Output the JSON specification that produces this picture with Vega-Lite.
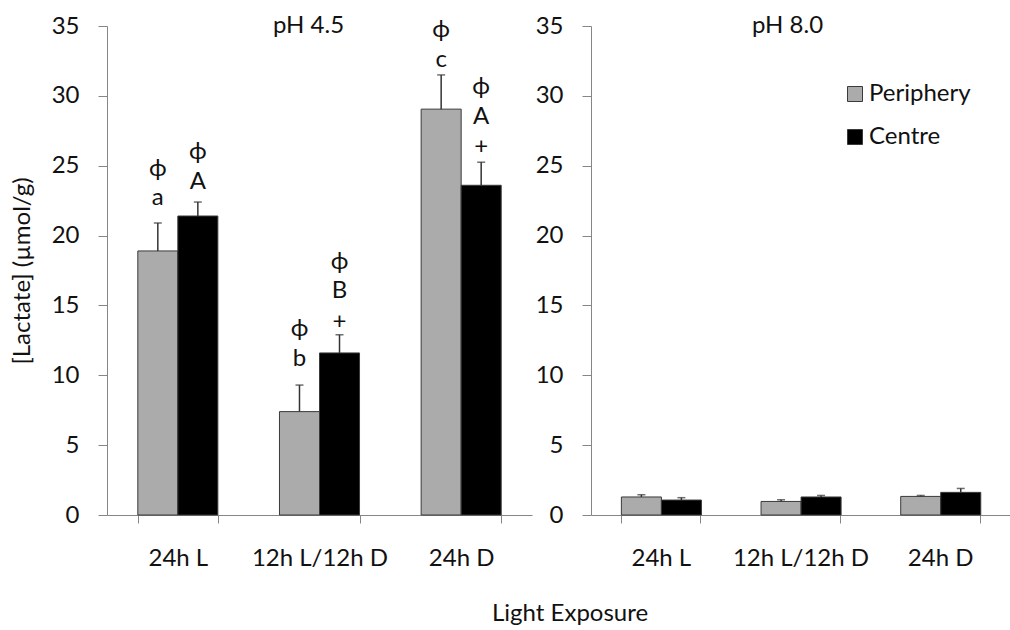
{
  "$schema": "https://vega.github.io/schema/vega-lite/v6.json",
  "padding": {"left": 10, "top": 13, "right": 0, "bottom": 0},
  "background": "white",
  "spacing": 3,
  "title": {"text": "Light Exposure", "orient": "bottom", "anchor": "middle", "font": "Lato", "fontSize": 24, "fontWeight": "normal", "color": "#111", "dx": 60, "offset": 32},
  "config": {
    "view": {"stroke": null},
    "font": "Lato",
    "axis": {"grid": false, "domainColor": "#868686", "tickColor": "#868686", "labelFont": "Lato", "labelFontSize": 24, "labelColor": "#111", "titleFont": "Lato", "titleFontSize": 24, "titleFontWeight": "normal", "titleColor": "#111"},
    "title": {"font": "Lato", "fontSize": 24, "fontWeight": "normal", "color": "#111"}
  },
  "datasets": {
    "bars": [
      {"pH": "pH 4.5", "exposure": "24h L", "series": "Periphery", "mean": 18.9, "upper": 20.9},
      {"pH": "pH 4.5", "exposure": "24h L", "series": "Centre", "mean": 21.4, "upper": 22.4},
      {"pH": "pH 4.5", "exposure": "12h L/12h D", "series": "Periphery", "mean": 7.4, "upper": 9.3},
      {"pH": "pH 4.5", "exposure": "12h L/12h D", "series": "Centre", "mean": 11.6, "upper": 12.9},
      {"pH": "pH 4.5", "exposure": "24h D", "series": "Periphery", "mean": 29.05, "upper": 31.5},
      {"pH": "pH 4.5", "exposure": "24h D", "series": "Centre", "mean": 23.6, "upper": 25.25},
      {"pH": "pH 8.0", "exposure": "24h L", "series": "Periphery", "mean": 1.29, "upper": 1.45},
      {"pH": "pH 8.0", "exposure": "24h L", "series": "Centre", "mean": 1.07, "upper": 1.24},
      {"pH": "pH 8.0", "exposure": "12h L/12h D", "series": "Periphery", "mean": 0.97, "upper": 1.09},
      {"pH": "pH 8.0", "exposure": "12h L/12h D", "series": "Centre", "mean": 1.29, "upper": 1.4},
      {"pH": "pH 8.0", "exposure": "24h D", "series": "Periphery", "mean": 1.33, "upper": 1.4},
      {"pH": "pH 8.0", "exposure": "24h D", "series": "Centre", "mean": 1.62, "upper": 1.9}
    ],
    "notes": [
      {"exposure": "24h L", "series": "Periphery", "label": "ϕ", "pos": 24.77},
      {"exposure": "24h L", "series": "Periphery", "label": "a", "pos": 22.7},
      {"exposure": "24h L", "series": "Centre", "label": "ϕ", "pos": 25.98},
      {"exposure": "24h L", "series": "Centre", "label": "A", "pos": 23.84},
      {"exposure": "12h L/12h D", "series": "Periphery", "label": "ϕ", "pos": 13.31},
      {"exposure": "12h L/12h D", "series": "Periphery", "label": "b", "pos": 11.2},
      {"exposure": "12h L/12h D", "series": "Centre", "label": "ϕ", "pos": 18.11},
      {"exposure": "12h L/12h D", "series": "Centre", "label": "B", "pos": 16.03},
      {"exposure": "12h L/12h D", "series": "Centre", "label": "+", "pos": 13.82},
      {"exposure": "24h D", "series": "Periphery", "label": "ϕ", "pos": 34.72},
      {"exposure": "24h D", "series": "Periphery", "label": "c", "pos": 32.6},
      {"exposure": "24h D", "series": "Centre", "label": "ϕ", "pos": 30.64},
      {"exposure": "24h D", "series": "Centre", "label": "A", "pos": 28.49},
      {"exposure": "24h D", "series": "Centre", "label": "+", "pos": 26.34}
    ]
  },
  "hconcat": [
    {
      "width": 425,
      "height": 489,
      "data": {"name": "bars"},
      "transform": [{"filter": "datum.pH === 'pH 4.5'"}],
      "encoding": {
        "x": {"field": "exposure", "type": "nominal", "sort": ["24h L", "12h L/12h D", "24h D"], "scale": {"paddingInner": 0.435, "paddingOuter": 0.2175}, "axis": {"title": null, "labelAngle": 0, "tickBand": "extent", "tickSize": 8, "labelPadding": 23}},
        "xOffset": {"field": "series", "type": "nominal", "sort": ["Periphery", "Centre"], "scale": {"paddingInner": 0, "paddingOuter": 0}}
      },
      "layer": [
        {
          "mark": {"type": "bar", "stroke": "#3a3a3a", "strokeWidth": 1},
          "encoding": {
            "y": {"field": "mean", "type": "quantitative", "scale": {"domain": [0, 35], "nice": false}, "axis": {"title": "[Lactate] (µmol/g)", "values": [0, 5, 10, 15, 20, 25, 30, 35], "tickSize": 9, "labelPadding": 19, "titlePadding": 17}},
            "color": {"field": "series", "type": "nominal", "sort": ["Periphery", "Centre"], "scale": {"domain": ["Periphery", "Centre"], "range": ["#ababab", "#000000"]}, "legend": null}
          }
        },
        {
          "mark": {"type": "rule", "color": "#333", "strokeWidth": 1.5},
          "encoding": {
            "x": {"field": "exposure", "type": "nominal", "sort": ["24h L", "12h L/12h D", "24h D"], "axis": null},
            "y": {"field": "mean", "type": "quantitative", "axis": null}, "y2": {"field": "upper"}}
        },
        {
          "mark": {"type": "tick", "color": "#333", "size": 8, "thickness": 1.5},
          "encoding": {
            "x": {"field": "exposure", "type": "nominal", "sort": ["24h L", "12h L/12h D", "24h D"], "axis": {"orient": "top", "title": "pH 4.5", "labels": false, "ticks": false, "domain": false, "titleX": 201, "titleY": 6, "titleAlign": "center", "titleBaseline": "alphabetic", "titleAnchor": null}},
            "y": {"field": "upper", "type": "quantitative", "axis": null}
          }
        },
        {
          "data": {"name": "notes"},
          "mark": {"type": "text", "font": "Lato", "fontSize": 24, "color": "#111", "baseline": "middle"},
          "encoding": {
            "x": {"field": "exposure", "type": "nominal", "sort": ["24h L", "12h L/12h D", "24h D"], "axis": null},
            "xOffset": {"field": "series", "type": "nominal", "sort": ["Periphery", "Centre"]},
            "y": {"field": "pos", "type": "quantitative", "axis": null},
            "text": {"field": "label"}
          }
        }
      ],
      "resolve": {"axis": {"x": "independent", "y": "independent"}}
    },
    {
      "width": 419,
      "height": 489,
      "data": {"name": "bars"},
      "transform": [{"filter": "datum.pH === 'pH 8.0'"}],
      "encoding": {
        "x": {"field": "exposure", "type": "nominal", "sort": ["24h L", "12h L/12h D", "24h D"], "scale": {"paddingInner": 0.435, "paddingOuter": 0.2175}, "axis": {"title": null, "labelAngle": 0, "tickBand": "extent", "tickSize": 8, "labelPadding": 23}},
        "xOffset": {"field": "series", "type": "nominal", "sort": ["Periphery", "Centre"], "scale": {"paddingInner": 0, "paddingOuter": 0}}
      },
      "layer": [
        {
          "mark": {"type": "bar", "stroke": "#3a3a3a", "strokeWidth": 1},
          "encoding": {
            "y": {"field": "mean", "type": "quantitative", "scale": {"domain": [0, 35], "nice": false}, "axis": {"title": null, "values": [0, 5, 10, 15, 20, 25, 30, 35], "tickSize": 9, "labelPadding": 19}},
            "color": {"field": "series", "type": "nominal", "sort": ["Periphery", "Centre"], "scale": {"domain": ["Periphery", "Centre"], "range": ["#ababab", "#000000"]}, "legend": {"title": null, "orient": "none", "legendX": 252, "legendY": 56, "symbolType": "square", "symbolSize": 225, "symbolStrokeColor": "#3a3a3a", "symbolStrokeWidth": 1, "labelFont": "Lato", "labelFontSize": 24, "labelColor": "#111", "labelOffset": 2, "rowPadding": 19, "padding": 0}}
          }
        },
        {
          "mark": {"type": "rule", "color": "#333", "strokeWidth": 1.5},
          "encoding": {
            "x": {"field": "exposure", "type": "nominal", "sort": ["24h L", "12h L/12h D", "24h D"], "axis": null},
            "y": {"field": "mean", "type": "quantitative", "axis": null}, "y2": {"field": "upper"}}
        },
        {
          "mark": {"type": "tick", "color": "#333", "size": 8, "thickness": 1.5},
          "encoding": {
            "x": {"field": "exposure", "type": "nominal", "sort": ["24h L", "12h L/12h D", "24h D"], "axis": {"orient": "top", "title": "pH 8.0", "labels": false, "ticks": false, "domain": false, "titleX": 196, "titleY": 6, "titleAlign": "center", "titleBaseline": "alphabetic", "titleAnchor": null}},
            "y": {"field": "upper", "type": "quantitative", "axis": null}
          }
        }
      ],
      "resolve": {"axis": {"x": "independent", "y": "independent"}}
    }
  ],
  "resolve": {"scale": {"color": "shared"}, "legend": {"color": "independent"}}
}
